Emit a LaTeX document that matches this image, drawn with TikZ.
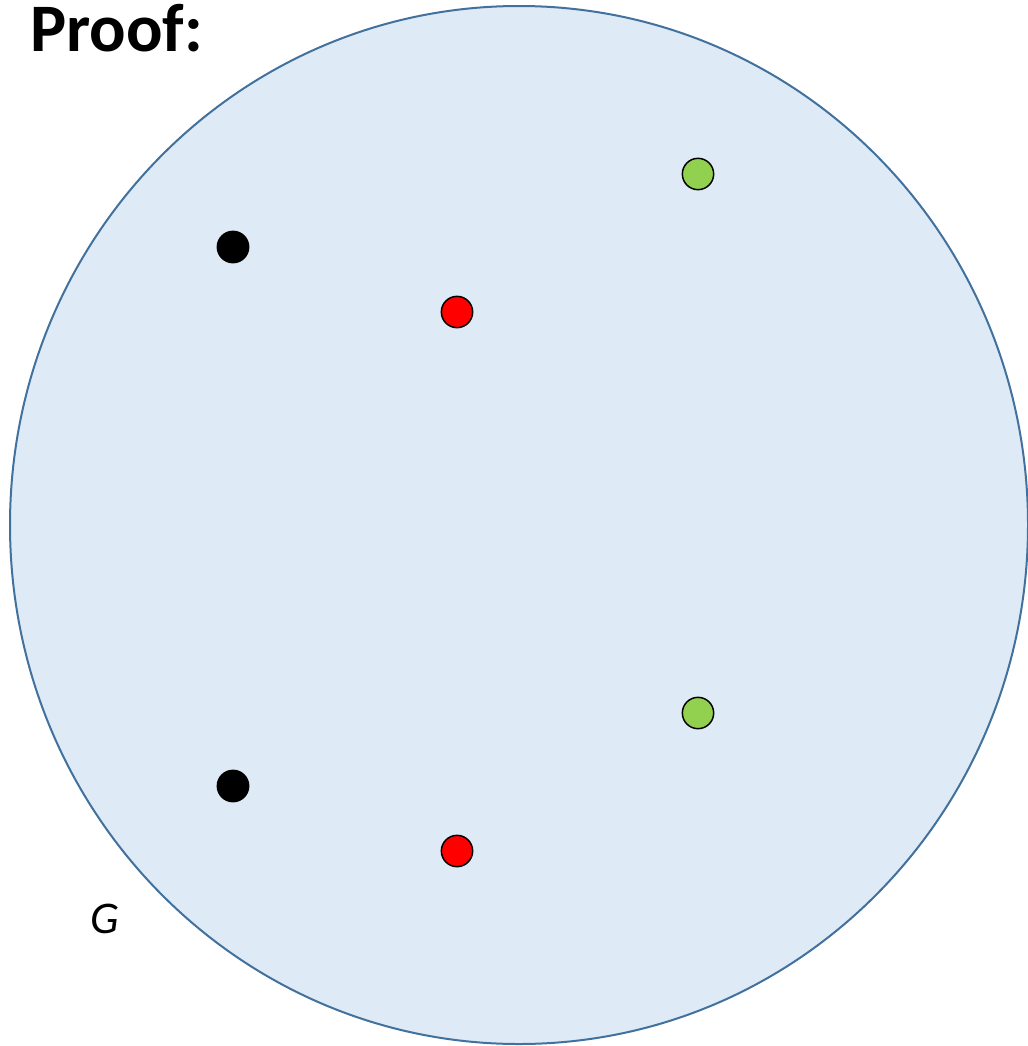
\documentclass[tikz,border=0pt]{standalone}
\usepackage{fontspec}
\setmainfont{Carlito}
\begin{document}
\begin{tikzpicture}[x=0.75pt,y=-0.75pt,
  dotnode/.style={circle,draw=black,line width=1.1pt,minimum size=23.5pt,inner sep=0pt},
  txt/.style={inner sep=0pt,anchor=base west}]
\definecolor{regionfill}{HTML}{DEEAF6}
\definecolor{regionline}{HTML}{41719C}
\definecolor{dotgreen}{HTML}{92D050}
\definecolor{dotred}{HTML}{FF0000}
\useasboundingbox (0,0) rectangle (1028,1046);
\path[fill=regionfill,draw=regionline,line width=1.5pt] (519,525) ellipse [x radius=509, y radius=519];
\node[dotnode,fill=black] (b1) at (233,247) {};
\node[dotnode,fill=black] (b2) at (233,786) {};
\node[dotnode,fill=dotred] (r1) at (457,312) {};
\node[dotnode,fill=dotred] (r2) at (457,851) {};
\node[dotnode,fill=dotgreen] (g1) at (698,174) {};
\node[dotnode,fill=dotgreen] (g2) at (698,713) {};
\node[txt] (title) at (30,51) {\fontsize{51}{56}\selectfont\bfseries Proof:};
\node[txt] (glabel) at (90,933) {\fontsize{34}{40}\selectfont\itshape G};
\end{tikzpicture}
\end{document}
